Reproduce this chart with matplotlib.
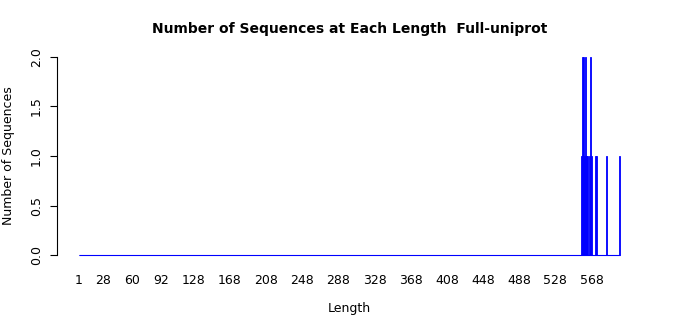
import numpy as np
import matplotlib.pyplot as plt

# sequence lengths that have at least one sequence, and their counts
lengths = [557, 558, 559, 560, 561, 562, 563, 564, 566, 567, 568, 572, 573, 585, 599]
counts = [1, 2, 2, 1, 2, 1, 1, 1, 1, 2, 1, 1, 1, 1, 1]
max_len = 599
tick_labels = [1, 28, 60, 92, 128, 168, 208, 248, 288, 328, 368, 408, 448, 488, 528, 568]

all_len = np.arange(1, max_len + 1)
all_cnt = np.zeros(max_len)
for l, c in zip(lengths, counts):
    all_cnt[l - 1] = c

fig = plt.figure(figsize=(7, 3.15), dpi=100)
ax = fig.add_axes([57 / 700, 1 - 263 / 315, (642 - 57) / 700, (263 - 49) / 315])

ax.bar(all_len, all_cnt, width=1.0, color='blue', edgecolor='blue', linewidth=0.6)
ax.hlines(0, all_len[0] - 0.5, all_len[-1] + 0.5, color='blue', linewidth=0.8)

ax.set_xlim(-23.3, 623.8)
ax.set_ylim(-0.08, 2.08)

for s in ['top', 'right', 'bottom']:
    ax.spines[s].set_visible(False)
ax.spines['left'].set_bounds(0, 2)
ax.spines['left'].set_linewidth(0.8)

ax.set_yticks([0, 0.5, 1.0, 1.5, 2.0])
ax.set_yticklabels(['0.0', '0.5', '1.0', '1.5', '2.0'], rotation=90, va='center', fontsize=9)
ax.tick_params(axis='y', length=5, width=0.8, pad=5)

ax.set_xticks(tick_labels)
ax.set_xticklabels([str(t) for t in tick_labels], fontsize=9)
ax.tick_params(axis='x', length=0, pad=8)

ax.set_xlabel('Length', fontsize=9, labelpad=11)
ax.set_ylabel('Number of Sequences', fontsize=9, labelpad=11)
fig.text(350 / 700, 1 - 29 / 315, 'Number of Sequences at Each Length  Full-uniprot',
         ha='center', va='center', fontsize=10, fontweight='bold')

fig.savefig('out.png', dpi=100)
